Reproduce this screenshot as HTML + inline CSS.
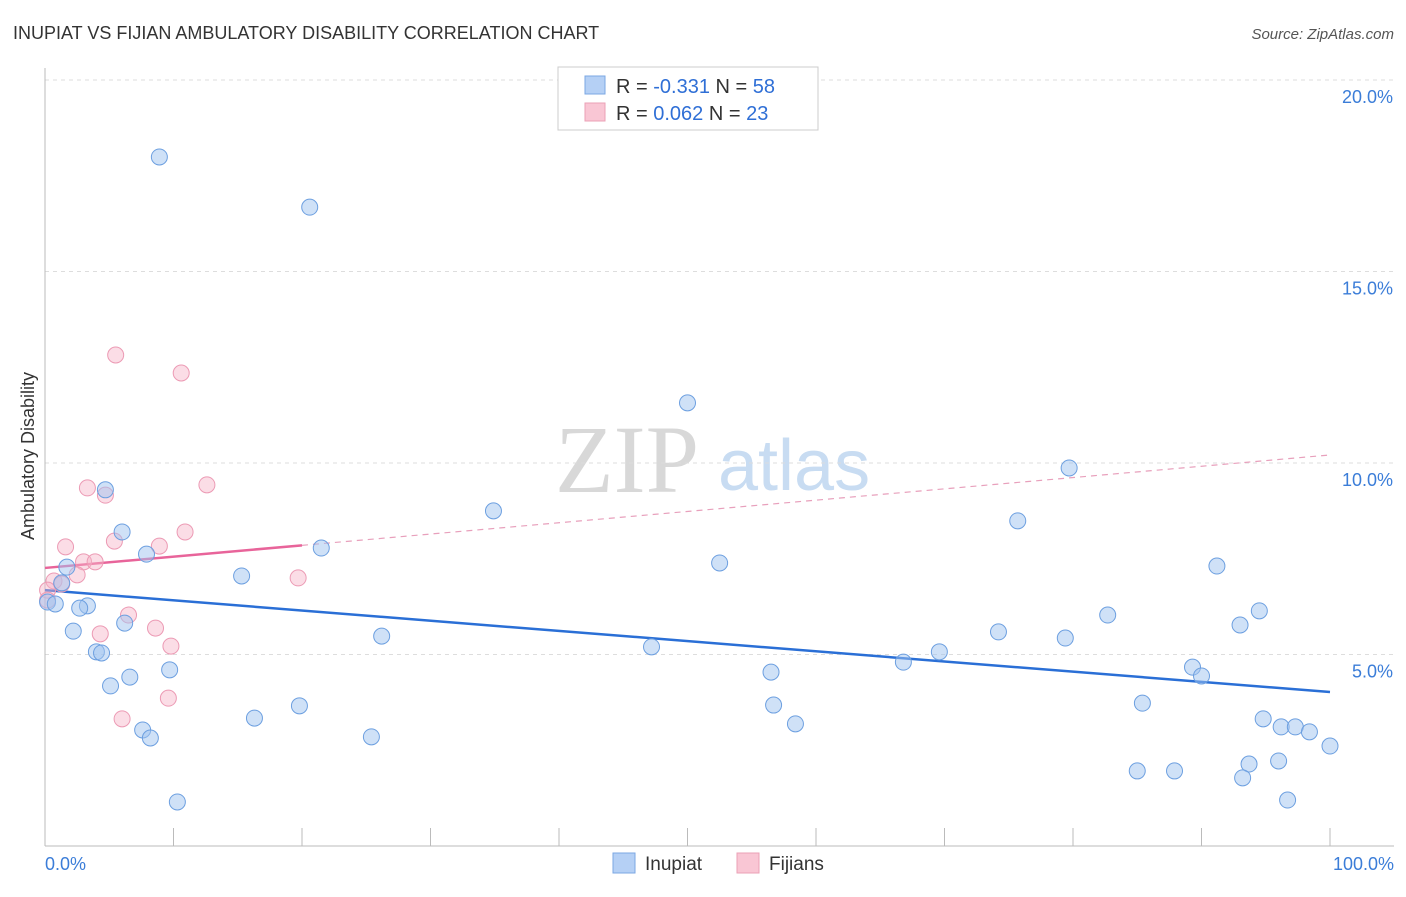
<!DOCTYPE html>
<html><head><meta charset="utf-8"><style>
body{margin:0;background:#fff;font-family:"Liberation Sans",sans-serif}
</style></head><body>
<svg id="chart" width="1406" height="892" xmlns="http://www.w3.org/2000/svg" font-family="Liberation Sans, sans-serif">
<text x="13" y="39" font-size="18" fill="#333">INUPIAT VS FIJIAN AMBULATORY DISABILITY CORRELATION CHART</text>
<text x="1394" y="39" font-size="15" fill="#555" text-anchor="end" font-style="italic">Source: ZipAtlas.com</text>
<text transform="translate(34,456) rotate(-90)" font-size="18" fill="#333" text-anchor="middle">Ambulatory Disability</text>
<g>
<text x="555" y="492" font-size="96" fill="#d8d8d8" font-family="Liberation Serif, serif">ZIP</text>
<text x="718" y="490" font-size="72" fill="#c8dcf2">atlas</text>
</g>
<g id="grid"></g><g id="axes"></g><g id="trend"></g><g id="pts"></g>
<g>
<rect x="558" y="67" width="260" height="63" fill="#fff" stroke="#ccc"/>
<rect x="585" y="76" width="20" height="18" fill="#b5d0f5" stroke="#7ba7e3"/>
<rect x="585" y="103" width="20" height="18" fill="#f9c6d4" stroke="#eba0b6"/>
<text x="616" y="93" font-size="20" fill="#333">R = <tspan fill="#2f6fd6">-0.331</tspan>   N = <tspan fill="#2f6fd6">58</tspan></text>
<text x="616" y="120" font-size="20" fill="#333">R =  <tspan fill="#2f6fd6">0.062</tspan>   N = <tspan fill="#2f6fd6">23</tspan></text>
</g>
<g>
<rect x="613" y="853" width="22" height="20" fill="#b5d0f5" stroke="#7ba7e3"/>
<text x="645" y="870" font-size="19" fill="#333">Inupiat</text>
<rect x="737" y="853" width="22" height="20" fill="#f9c6d4" stroke="#eba0b6"/>
<text x="769" y="870" font-size="19" fill="#333">Fijians</text>
</g>
</svg>
<script>
const yTicks=[5,10,15,20];
const yTickLabels=["5.0%","10.0%","15.0%","20.0%"];
const xTicks=[0,10,20,30,40,50,60,70,80,90,100];
const inupiatX=[8.9,20.6,50.0,79.7,34.9,75.7,4.7,6.0,21.5,7.9,52.5,91.2,1.7,1.3,15.3,0.2,0.8,3.3,2.7,82.7,94.5,6.2,93.0,2.2,26.2,74.2,79.4,47.2,4.0,4.4,69.6,9.7,66.8,56.5,89.3,90.0,6.6,5.1,85.4,56.7,19.8,16.3,94.8,96.2,97.3,98.4,58.4,7.6,8.2,25.4,100,93.7,96.0,85.0,87.9,93.2,10.3,96.7];
const inupiatY=[17.99,16.68,11.57,9.87,8.75,8.49,9.30,8.20,7.78,7.62,7.39,7.31,7.28,6.87,7.05,6.37,6.32,6.27,6.21,6.03,6.14,5.82,5.77,5.61,5.48,5.59,5.43,5.20,5.07,5.04,5.07,4.60,4.80,4.54,4.67,4.44,4.41,4.18,3.73,3.68,3.66,3.34,3.32,3.11,3.11,2.98,3.19,3.03,2.82,2.85,2.61,2.14,2.22,1.96,1.96,1.78,1.15,1.20];
const fijiX=[5.5,10.6,12.6,3.3,4.7,10.9,5.4,8.9,1.6,3.0,3.9,2.5,19.7,0.7,1.3,0.2,6.5,8.6,4.3,9.8,9.6,6.0,0.2];
const fijiY=[12.82,12.35,9.43,9.35,9.16,8.20,7.96,7.83,7.81,7.42,7.42,7.08,7.00,6.92,6.84,6.68,6.03,5.69,5.54,5.22,3.86,3.32,6.42];
const inupiatTrend=[6.68,4.02];
const fijiTrend=[7.26,10.21];
const fijiSolidEnd=20;
const NS="http://www.w3.org/2000/svg";
const X=v=>45+v*12.85, Y=v=>846-v*38.3;
function mk(tag,attrs,parent){const e=document.createElementNS(NS,tag);for(const k in attrs)e.setAttribute(k,attrs[k]);document.getElementById(parent).appendChild(e);return e;}
yTicks.forEach((t,i)=>{
 const l=mk('line',{x1:45,x2:1394,y1:Y(t),y2:Y(t),stroke:'#ddd','stroke-dasharray':'4,4'},'grid');
 
 
 const tx=mk('text',{x:1393,y:Y(t)+23,'font-size':18,fill:'#3b7dd8','text-anchor':'end'},'grid');tx.textContent=yTickLabels[i];
 
 
});
const ax=mk('line',{x1:45,x2:1394,y1:846,y2:846,stroke:'#bbb'},'axes');


const ay=mk('line',{x1:45,x2:45,y1:68,y2:846,stroke:'#bbb'},'axes');


xTicks.forEach(t=>{const l=mk('line',{x1:X(t),x2:X(t),y1:828,y2:846,stroke:'#bbb'},'axes');
 
 });
let t0=mk('text',{x:45,y:870,'font-size':18,fill:'#3b7dd8'},'axes');t0.textContent='0.0%';


let t1=mk('text',{x:1394,y:870,'font-size':18,fill:'#3b7dd8','text-anchor':'end'},'axes');t1.textContent='100.0%';


const fy=x=>fijiTrend[0]+(fijiTrend[1]-fijiTrend[0])*x/100;
let l1=mk('line',{x1:X(0),y1:Y(inupiatTrend[0]),x2:X(100),y2:Y(inupiatTrend[1]),stroke:'#2a6fd6','stroke-width':2.5},'trend');


let l2=mk('line',{x1:X(0),y1:Y(fy(0)),x2:X(fijiSolidEnd),y2:Y(fy(fijiSolidEnd)),stroke:'#e8649a','stroke-width':2.5},'trend');


let l3=mk('line',{x1:X(fijiSolidEnd),y1:Y(fy(fijiSolidEnd)),x2:X(100),y2:Y(fy(100)),stroke:'#e8a0bc','stroke-width':1.2,'stroke-dasharray':'6,5'},'trend');


fijiX.forEach((v,i)=>{const c=mk('circle',{cx:X(v),cy:Y(fijiY[i]),r:8,fill:'rgba(246,180,200,0.45)',stroke:'#ec9ab4','stroke-width':1},'pts');
 
 });
inupiatX.forEach((v,i)=>{const c=mk('circle',{cx:X(v),cy:Y(inupiatY[i]),r:8,fill:'rgba(160,196,240,0.5)',stroke:'#6c9fe0','stroke-width':1},'pts');
 
 });
</script>
</body></html>
